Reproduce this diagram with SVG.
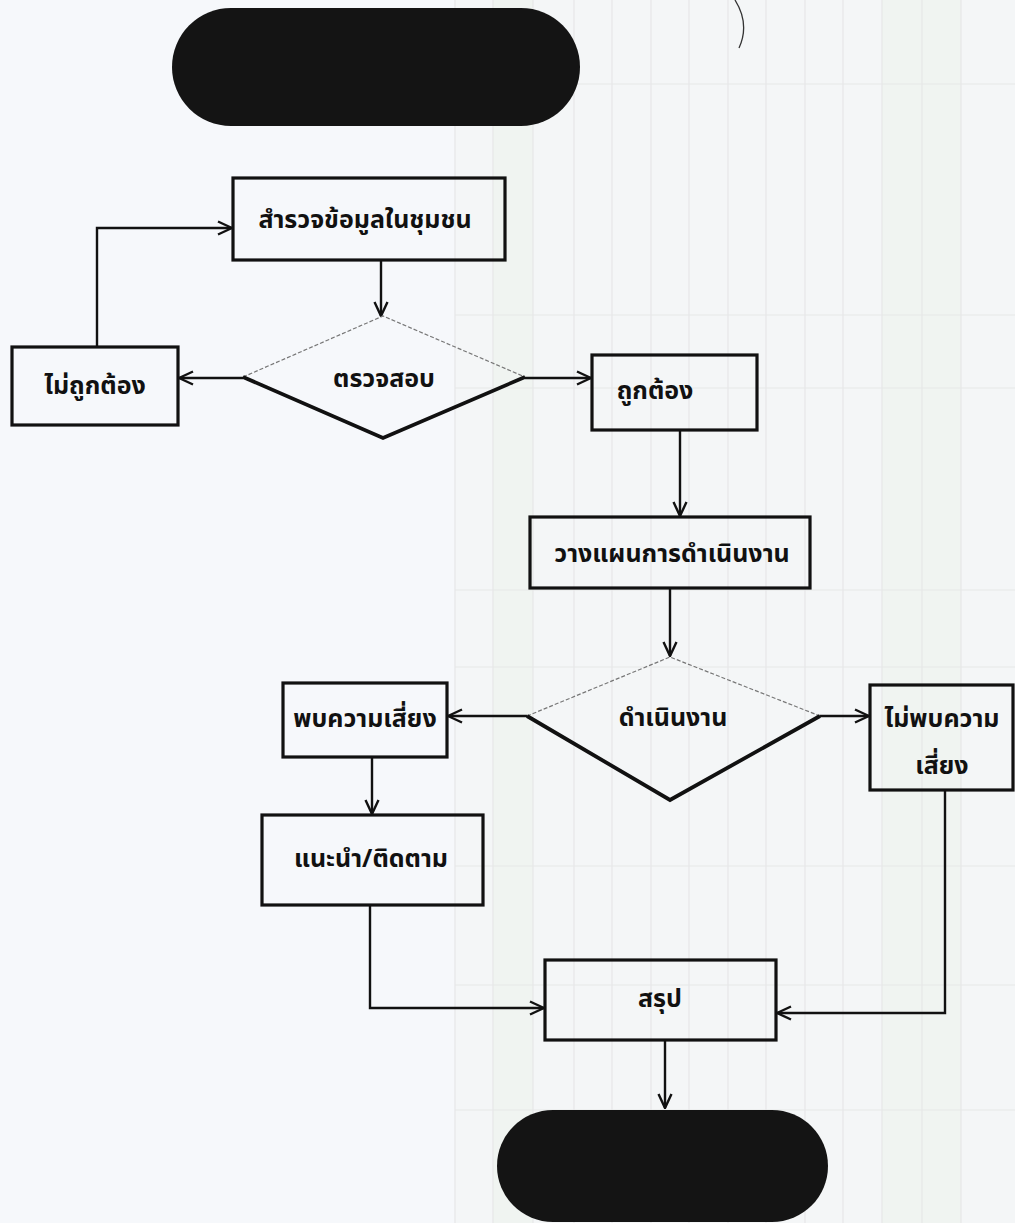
<svg xmlns="http://www.w3.org/2000/svg" width="1015" height="1223" viewBox="0 0 1015 1223">
<style>
.box{fill:none;stroke:#111;stroke-width:3.2}
.term{fill:#141414}
.lbl{font-family:"Noto Sans Thai","Loma","Tlwg Typo","DejaVu Sans","Noto Sans",sans-serif;font-size:25px;font-weight:bold;fill:#111;text-anchor:middle}
.con{fill:none;stroke:#111;stroke-width:2.4}
.dtop{fill:none;stroke:#777;stroke-width:1.2;stroke-dasharray:4 2}
.dbot{fill:none;stroke:#111;stroke-width:3.8}
.grid{stroke:#e6e7e8;stroke-width:1.2}
</style>
<defs>
<marker id="arr" viewBox="0 0 16 16" refX="15" refY="8" markerWidth="16" markerHeight="16" markerUnits="userSpaceOnUse" orient="auto">
<path d="M1,1.5 L15,8 L1,14.5" fill="none" stroke="#111" stroke-width="2.4"/>
</marker>
</defs>
<rect width="1015" height="1223" fill="#f6f8fb"/>
<g id="background-table">
<rect x="455" y="0" width="560" height="1223" fill="#f4f6f7"/>
<rect x="493" y="0" width="40" height="1223" fill="#f0f4f1"/>
<rect x="882" y="0" width="79" height="1223" fill="#f0f4f1"/>
<g class="grid">
<line x1="455" y1="0" x2="455" y2="1223"/>
<line x1="493" y1="0" x2="493" y2="1223"/>
<line x1="533" y1="0" x2="533" y2="1223"/>
<line x1="574" y1="0" x2="574" y2="1223"/>
<line x1="612" y1="0" x2="612" y2="1223"/>
<line x1="651" y1="0" x2="651" y2="1223"/>
<line x1="689" y1="0" x2="689" y2="1223"/>
<line x1="728" y1="0" x2="728" y2="1223"/>
<line x1="766" y1="0" x2="766" y2="1223"/>
<line x1="805" y1="0" x2="805" y2="1223"/>
<line x1="843" y1="0" x2="843" y2="1223"/>
<line x1="882" y1="0" x2="882" y2="1223"/>
<line x1="922" y1="0" x2="922" y2="1223"/>
<line x1="961" y1="0" x2="961" y2="1223"/>
<line x1="455" y1="84" x2="1015" y2="84"/>
<line x1="455" y1="315" x2="1015" y2="315"/>
<line x1="455" y1="388" x2="1015" y2="388"/>
<line x1="455" y1="590" x2="1015" y2="590"/>
<line x1="455" y1="667" x2="1015" y2="667"/>
<line x1="455" y1="866" x2="1015" y2="866"/>
<line x1="455" y1="985" x2="1015" y2="985"/>
<line x1="455" y1="1110" x2="1015" y2="1110"/>
</g>
</g>
<path d="M735,0 Q750,24 739,48" fill="none" stroke="#333" stroke-width="1.3"/>

<g id="connectors">
<line class="con" x1="381" y1="260" x2="381" y2="316" marker-end="url(#arr)"/>
<line class="con" x1="243" y1="378" x2="179" y2="378" marker-end="url(#arr)"/>
<polyline class="con" points="97,347 97,228 232,228" marker-end="url(#arr)"/>
<line class="con" x1="525" y1="378" x2="591" y2="378" marker-end="url(#arr)"/>
<line class="con" x1="680" y1="430" x2="680" y2="516" marker-end="url(#arr)"/>
<line class="con" x1="670" y1="588" x2="670" y2="656" marker-end="url(#arr)"/>
<line class="con" x1="527" y1="716" x2="448" y2="716" marker-end="url(#arr)"/>
<line class="con" x1="820" y1="716" x2="869" y2="716" marker-end="url(#arr)"/>
<line class="con" x1="372" y1="757" x2="372" y2="814" marker-end="url(#arr)"/>
<polyline class="con" points="370,905 370,1008 544,1008" marker-end="url(#arr)"/>
<polyline class="con" points="945,790 945,1013 777,1013" marker-end="url(#arr)"/>
<line class="con" x1="665" y1="1040" x2="665" y2="1108" marker-end="url(#arr)"/>
</g>

<g id="start">
<rect class="term" x="172" y="8" width="408" height="118" rx="59"/>
</g>
<g id="survey">
<rect class="box" x="233" y="178" width="272" height="82"/>
<text class="lbl" x="365" y="228">สำรวจข้อมูลในชุมชน</text>
</g>
<g id="check">
<polyline class="dtop" points="243,377 383,316 525,377"/>
<polyline class="dbot" points="243,377 383,438 525,377"/>
<text class="lbl" x="384" y="387">ตรวจสอบ</text>
</g>
<g id="incorrect">
<rect class="box" x="12" y="347" width="166" height="78"/>
<text class="lbl" x="95" y="394">ไม่ถูกต้อง</text>
</g>
<g id="correct">
<rect class="box" x="592" y="355" width="165" height="75"/>
<text class="lbl" x="655" y="399">ถูกต้อง</text>
</g>
<g id="plan">
<rect class="box" x="530" y="517" width="280" height="71"/>
<text class="lbl" x="672" y="562">วางแผนการดำเนินงาน</text>
</g>
<g id="operate">
<polyline class="dtop" points="527,716 670,657 820,716"/>
<polyline class="dbot" points="527,716 670,800 820,716"/>
<text class="lbl" x="673" y="726">ดำเนินงาน</text>
</g>
<g id="risk-found">
<rect class="box" x="283" y="683" width="164" height="74"/>
<text class="lbl" x="365" y="727">พบความเสี่ยง</text>
</g>
<g id="no-risk">
<rect class="box" x="870" y="685" width="143" height="105"/>
<text class="lbl" x="942" y="727">ไม่พบความ</text>
<text class="lbl" x="942" y="774">เสี่ยง</text>
</g>
<g id="advise">
<rect class="box" x="262" y="815" width="221" height="90"/>
<text class="lbl" x="371" y="867">แนะนำ/ติดตาม</text>
</g>
<g id="summary">
<rect class="box" x="545" y="960" width="231" height="80"/>
<text class="lbl" x="660" y="1007">สรุป</text>
</g>
<g id="end">
<rect class="term" x="497" y="1110" width="331" height="112" rx="56"/>
</g>
</svg>
